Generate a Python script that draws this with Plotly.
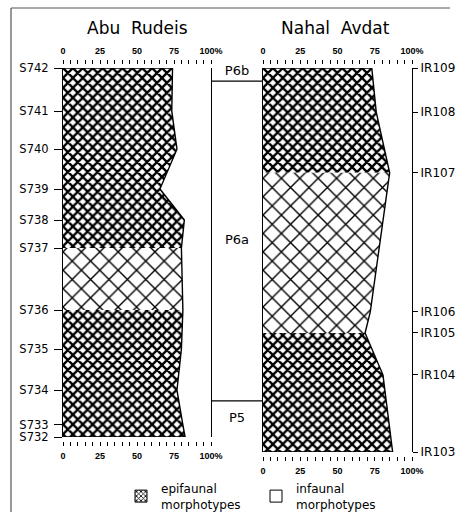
import plotly.graph_objects as go

W, H = 457, 512

# ---------------- data ----------------
left_samples = ["S742", "S741", "S740", "S739", "S738", "S737", "S736", "S735", "S734", "S733", "S732"]
left_levels = [100, 88.3, 78.0, 67.2, 58.8, 51.2, 34.4, 23.8, 12.7, 3.3, 0]
left_epifaunal = [74, 73.5, 77, 65.5, 82, 80, 81, 80, 77, 81, 82.5]
left_sparse_zone = ("S737", "S736")   # interval drawn with the open cross-hatch

right_samples = ["IR109", "IR108", "IR107", "IR106", "IR105", "IR104", "IR103"]
right_levels = [100, 88.5, 72.7, 36.5, 31.0, 20.1, 0]
right_epifaunal = [73, 76, 85, 72, 68.5, 80.5, 87]
right_sparse_zone = ("IR107", "IR105")

zone_names = ["P6b", "P6a", "P5"]
zone_bounds = [101.5, 96.6, 13.3, 3.9]   # on the Nahal Avdat level scale

pct_ticks = [0, 25, 50, 75, 100]
pct_labels = ["0", "25", "50", "75", "100%"]

# ---------------- style ----------------
FONT = "DejaVu Sans"
TICKFONT = dict(family="Liberation Sans", size=9, color="black", weight="bold")
dense = dict(shape="x", size=7, solidity=0.55, fgcolor="black", bgcolor="white", fgopacity=1)
sparse = dict(shape="x", size=13, solidity=0.2, fgcolor="black", bgcolor="white", fgopacity=1)


def py(px):
    return 1 - px / H


def pxx(px):
    return px / W


fig = go.Figure()


def add_panel(samples, levels, vals, sparse_zone, xa, ya):
    i_a = samples.index(sparse_zone[0])
    i_b = samples.index(sparse_zone[1])
    segments = [(0, i_a, dense), (i_a, i_b, sparse), (i_b, len(vals) - 1, dense)]
    for i0, i1, pat in segments:
        xs = [0] + vals[i0:i1 + 1] + [0]
        ys = [levels[i0]] + levels[i0:i1 + 1] + [levels[i1]]
        fig.add_trace(go.Scatter(
            x=xs, y=ys, fill="toself", mode="lines", line=dict(width=0, color="black"),
            fillpattern=pat, fillcolor="white", xaxis=xa, yaxis=ya,
            showlegend=False, hoverinfo="skip"))
    fig.add_trace(go.Scatter(
        x=[0] + vals + [0], y=[levels[0]] + levels + [levels[-1]],
        mode="lines", line=dict(color="black", width=1.4),
        xaxis=xa, yaxis=ya, showlegend=False, hoverinfo="skip"))


add_panel(left_samples, left_levels, left_epifaunal, left_sparse_zone, "x", "y")
add_panel(right_samples, right_levels, right_epifaunal, right_sparse_zone, "x2", "y2")

# invisible traces so that the bottom percentage axes are drawn
fig.add_trace(go.Scatter(x=[0, 100], y=[0, 0], mode="none", xaxis="x3", yaxis="y",
                         showlegend=False, hoverinfo="skip"))
fig.add_trace(go.Scatter(x=[0, 100], y=[0, 0], mode="none", xaxis="x4", yaxis="y2",
                         showlegend=False, hoverinfo="skip"))

# zone column
zx, zy = [], []
for b in zone_bounds[1:-1]:
    zx += [0, 1, None]
    zy += [b, b, None]
fig.add_trace(go.Scatter(x=zx, y=zy, mode="lines", line=dict(color="black", width=1.2),
                         xaxis="x5", yaxis="y2", showlegend=False, hoverinfo="skip",
                         cliponaxis=False))
mids = [(zone_bounds[i] + zone_bounds[i + 1]) / 2 for i in range(len(zone_names))]
fig.add_trace(go.Scatter(x=[0.5] * len(zone_names), y=mids, mode="text", text=zone_names,
                         textfont=dict(family=FONT, size=13, color="black"),
                         xaxis="x5", yaxis="y2", showlegend=False, hoverinfo="skip",
                         cliponaxis=False))

# legend-only entries
fig.add_trace(go.Bar(x=[None], y=[None], name="epifaunal<br>morphotypes",
                     marker=dict(color="white", pattern=dict(dense, size=4, solidity=0.45),
                                 line=dict(color="black", width=1)),
                     xaxis="x", yaxis="y"))
fig.add_trace(go.Bar(x=[None], y=[None], name="infaunal<br>morphotypes",
                     marker=dict(color="white", line=dict(color="black", width=1)),
                     xaxis="x", yaxis="y"))

pct_axis = dict(range=[0, 100], tickvals=pct_ticks, ticktext=pct_labels, ticks="outside",
                ticklen=4, tickwidth=1, tickcolor="black", tickfont=TICKFONT,
                showgrid=False, zeroline=False, showline=False, anchor="free",
                automargin=False,
                minor=dict(dtick=5, tick0=0, ticks="outside", ticklen=4, tickcolor="black",
                           tickwidth=1, showgrid=False),
                ticklabelstandoff=2)

lx = [pxx(63), pxx(211)]
rx = [pxx(263), pxx(412)]

fig.update_layout(
    width=W, height=H, margin=dict(l=0, r=0, t=0, b=0, autoexpand=False),
    paper_bgcolor="white", plot_bgcolor="rgba(0,0,0,0)",
    font=dict(family=FONT, color="black"),
    xaxis=dict(domain=lx, side="top", position=py(64), **pct_axis),
    xaxis3=dict(domain=lx, side="bottom", overlaying="x", position=py(441), **pct_axis),
    xaxis2=dict(domain=rx, side="top", position=py(64), **pct_axis),
    xaxis4=dict(domain=rx, side="bottom", overlaying="x2", position=py(456), **pct_axis),
    xaxis5=dict(domain=[pxx(211), pxx(263)], range=[0, 1], visible=False, anchor="y2"),
    yaxis=dict(domain=[py(437), py(68)], range=[0, 100], anchor="x", automargin=False,
               tickvals=left_levels, ticktext=left_samples, ticks="outside", ticklen=8,
               tickcolor="black", tickfont=dict(family=FONT, size=11.5, color="black"),
               showline=True, mirror=True, linecolor="black", linewidth=1.2,
               showgrid=False, zeroline=False, ticklabelstandoff=3),
    yaxis2=dict(domain=[py(452), py(68)], range=[0, 100], anchor="x2", side="right",
                automargin=False,
                tickvals=right_levels, ticktext=right_samples, ticks="outside", ticklen=5,
                tickcolor="black", tickfont=dict(family=FONT, size=12, color="black"),
                showline=True, mirror=True, linecolor="black", linewidth=1.2,
                showgrid=False, zeroline=False),
    legend=dict(orientation="h", x=pxx(121), y=py(474), xanchor="left", yanchor="top",
                font=dict(family=FONT, size=12, color="black"), entrywidth=90,
                tracegroupgap=0, bgcolor="rgba(0,0,0,0)"),
    annotations=[
        dict(text="Abu&nbsp;&nbsp;Rudeis", x=pxx(137), y=py(28), xref="paper", yref="paper",
             xanchor="center", yanchor="middle",
             showarrow=False, font=dict(family=FONT, size=17, color="black")),
        dict(text="Nahal&nbsp;&nbsp;Avdat", x=pxx(335), y=py(28), xref="paper", yref="paper",
             xanchor="center", yanchor="middle",
             showarrow=False, font=dict(family=FONT, size=17, color="black")),
    ],
    shapes=[
        dict(type="line", xref="paper", yref="paper", x0=pxx(11), x1=pxx(450), y0=py(8), y1=py(8),
             line=dict(color="#555", width=1)),
        dict(type="line", xref="paper", yref="paper", x0=pxx(11), x1=pxx(11), y0=py(8), y1=0,
             line=dict(color="#333", width=1)),
    ],
)

fig.write_html("out.html", config={"displayModeBar": False},
               post_script="document.body.style.margin='0';document.body.style.overflow='hidden';")
